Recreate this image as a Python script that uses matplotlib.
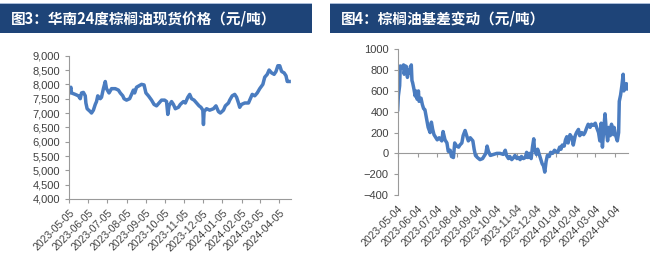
import numpy as np
import pandas as pd
import matplotlib
matplotlib.use("Agg")
import matplotlib.pyplot as plt
import matplotlib.dates as mdates
from matplotlib.patches import Rectangle

plt.rcParams['font.family'] = ['Liberation Sans', 'DejaVu Sans']

# 图3 华南24度棕榈油现货价格: days after 2023-05-05, price
price_start = "2023-05-05"
price_day = [0, 3, 4, 10, 15, 18, 20, 23, 26, 27, 29, 34, 36, 39, 42, 44, 46, 50, 52, 55,
             58, 60, 64, 68, 74, 79, 82, 86, 88, 92, 97, 103, 105, 108, 112, 116, 120, 123, 127, 132,
             136, 140, 144, 148, 153, 156, 158, 160, 164, 167, 170, 175, 178, 183, 186, 190, 193, 196, 200, 204,
             208, 211, 214, 215, 216, 220, 225, 231, 235, 239, 242, 247, 250, 255, 257, 261, 265, 268, 271, 273,
             276, 281, 287, 290, 293, 297, 301, 305, 310, 313, 317, 320, 324, 328, 331, 334, 337, 340, 344, 347,
             349, 352]
price = [7700, 7900, 7700, 7650, 7600, 7500, 7700, 7720, 7600, 7350, 7150, 7050, 7000, 7100, 7300, 7400, 7600, 7500, 7550, 7850,
         8100, 7850, 7700, 7850, 7850, 7800, 7700, 7600, 7500, 7450, 7500, 7800, 7700, 7900, 7950, 8000, 7980, 7700, 7600, 7450,
         7300, 7250, 7350, 7450, 7450, 7400, 6950, 7250, 7400, 7300, 7150, 7200, 7300, 7400, 7350, 7550, 7650, 7500, 7450, 7350,
         7250, 7200, 7100, 6600, 7050, 7150, 7100, 7150, 7250, 7050, 7000, 7100, 7250, 7350, 7450, 7600, 7650, 7550, 7350, 7200,
         7300, 7350, 7350, 7500, 7650, 7600, 7700, 7850, 8000, 8250, 8350, 8500, 8400, 8350, 8450, 8650, 8650, 8450, 8400, 8300,
         8100, 8100]

# 图4 棕榈油基差变动: days after 2023-05-04, basis
basis_start = "2023-05-04"
basis_day = [0, 1, 3, 4, 6, 9, 10, 12, 14, 15, 17, 19, 21, 22, 23, 25, 27, 28, 30, 32,
             33, 36, 38, 40, 42, 45, 47, 50, 52, 54, 56, 59, 61, 64, 68, 70, 73, 76, 78, 81,
             83, 86, 88, 91, 94, 96, 99, 101, 104, 106, 109, 112, 116, 118, 120, 123, 127, 131, 134, 136,
             138, 140, 143, 148, 153, 158, 163, 166, 168, 171, 173, 176, 179, 181, 184, 186, 189, 191, 194, 197,
             199, 201, 203, 206, 208, 210, 211, 214, 216, 218, 221, 223, 225, 227, 229, 231, 234, 236, 239, 242,
             244, 247, 250, 252, 254, 257, 259, 261, 263, 266, 269, 271, 274, 276, 279, 281, 284, 287, 289, 292,
             294, 297, 299, 302, 305, 307, 310, 312, 314, 316, 318, 320, 322, 324, 326, 328, 330, 333, 334, 336,
             339, 341, 342, 344, 346, 348, 349, 351, 353, 355]
basis = [420, 550, 650, 840, 820, 850, 760, 840, 830, 730, 800, 770, 850, 700, 680, 620, 550, 600, 520, 600,
         500, 530, 470, 430, 420, 320, 250, 200, 300, 230, 180, 150, 130, 150, 120, 210, 130, 100, 20, 30,
         -30, -40, 100, 70, 60, 80, 100, 170, 220, 180, 120, 150, 120, 40, -20, -40, -60, -50, -20, 0,
         70, 20, -20, -10, 0, 0, -10, 30, -20, -50, -30, -60, -40, -20, -50, -40, -60, -30, -50, -40,
         10, -40, 0, -50, 60, 140, 50, -10, 40, 0, -60, -100, -120, -180, -80, -20, -30, 10, 0, 30,
         20, 10, 60, 40, 80, 70, 130, 160, 100, 180, 150, 80, 170, 200, 230, 170, 200, 180, 200, 250,
         280, 250, 280, 270, 290, 250, 200, 120, 290, 60, 230, 380, 220, 120, 250, 170, 280, 180, 250, 180,
         120, 200, 500, 560, 650, 760, 600, 640, 670, 620]

titles = ["图3：华南24度棕榈油现货价格（元/吨）", "图4：棕榈油基差变动（元/吨）"]

line_color = "#4a7cc0"
bar_color = "#1e4478"
spine_color = "#9a9a9a"
text_color = "#404040"

fig = plt.figure(figsize=(6.59, 2.6), dpi=100)

# title bars
for x0, w, title in [(0.0, 312 / 659, titles[0]), (330 / 659, 320 / 659, titles[1])]:
    fig.patches.append(Rectangle((x0, 1 - 33 / 260), w, 29 / 260, transform=fig.transFigure,
                                 facecolor=bar_color, edgecolor="none"))
    fig.patches.append(Rectangle((x0, 1 - 4 / 260), w, 1.5 / 260, transform=fig.transFigure,
                                 facecolor="#a9bcd8", edgecolor="none"))
    fig.text(x0 + 11 / 659, 1 - 18.5 / 260, title, color="white", fontsize=10.5, fontweight="bold",
             va="center", ha="left", family=["Noto Sans CJK SC", "DejaVu Sans"])


def style(ax):
    for s in ["top", "right"]:
        ax.spines[s].set_visible(False)
    for s in ["left", "bottom"]:
        ax.spines[s].set_color(spine_color)
        ax.spines[s].set_linewidth(0.8)
    ax.tick_params(colors=spine_color, labelcolor=text_color, labelsize=8, length=3, width=0.8)
    ax.tick_params(axis="x", labelsize=7.5)


def tilt(ax):
    for lab in ax.get_xticklabels():
        lab.set_rotation(45)
        lab.set_ha("right")
        lab.set_rotation_mode("anchor")


# left chart
ax1 = fig.add_axes([69 / 659, 1 - 199 / 260, 222 / 659, 143.3 / 260])
t1 = pd.Timestamp(price_start) + pd.to_timedelta(price_day, unit="D")
ax1.plot(t1, price, color=line_color, lw=2.5, solid_joinstyle="round")
ax1.set_ylim(4000, 9000)
ax1.set_yticks(np.arange(4000, 9001, 500))
ax1.yaxis.set_major_formatter(matplotlib.ticker.StrMethodFormatter("{x:,.0f}"))
ax1.set_xlim(pd.Timestamp(price_start), pd.Timestamp(price_start) + pd.Timedelta(days=355))
ax1.xaxis.set_major_locator(mdates.MonthLocator(bymonthday=5))
ax1.xaxis.set_major_formatter(mdates.DateFormatter("%Y-%m-%d"))
style(ax1)
tilt(ax1)

# right chart: labels at the bottom, axis line and tick marks at zero
ax2 = fig.add_axes([397.7 / 659, 1 - 195 / 260, 230 / 659, 145.7 / 260])
t2 = pd.Timestamp(basis_start) + pd.to_timedelta(basis_day, unit="D")
ax2.plot(t2, basis, color=line_color, lw=2.5, solid_joinstyle="round")
ax2.set_ylim(-400, 1000)
ax2.set_yticks(np.arange(-400, 1001, 200))
ax2.set_xlim(pd.Timestamp(basis_start), pd.Timestamp(basis_start) + pd.Timedelta(days=355))
ax2.xaxis.set_major_locator(mdates.MonthLocator(bymonthday=4))
ax2.xaxis.set_major_formatter(mdates.DateFormatter("%Y-%m-%d"))
style(ax2)
ax2.spines["bottom"].set_visible(False)
ax2.tick_params(axis="x", length=0, pad=6)
tilt(ax2)

zero_frac = (0 - (-400)) / (1000 - (-400))
zero_axis = ax2.secondary_xaxis(zero_frac)
zero_axis.set_xticks(ax2.get_xticks())
zero_axis.spines["bottom"].set_color(spine_color)
zero_axis.spines["bottom"].set_linewidth(0.8)
zero_axis.tick_params(colors=spine_color, length=3, width=0.8, labelbottom=False)

fig.savefig("out.png", dpi=100, facecolor="white")
